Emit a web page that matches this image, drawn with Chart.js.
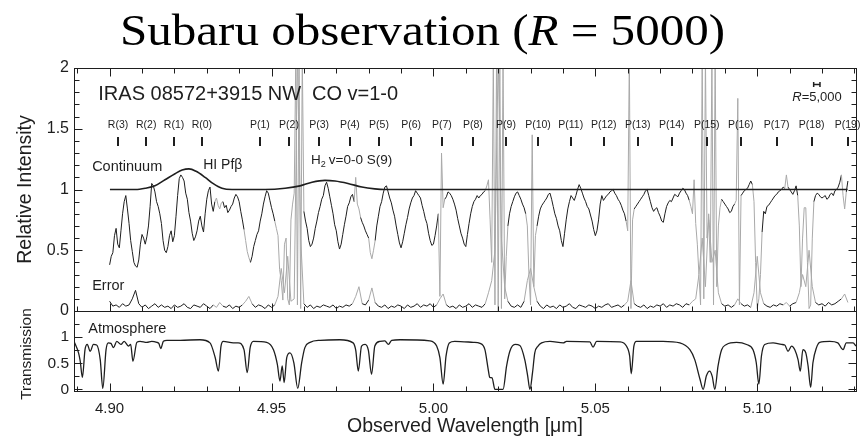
<!DOCTYPE html>
<html>
<head>
<meta charset="utf-8">
<script src="https://cdn.jsdelivr.net/npm/chart.js@4.4.1/dist/chart.umd.min.js"></script>
<style>
  html, body { margin: 0; padding: 0; background: #fff; }
  #wrap { position: relative; width: 861px; height: 436px; }
  #wrap canvas { position: absolute; left: 0; top: 0; }
</style>
</head>
<body>
<div id="wrap">
  <canvas id="upper" width="861" height="436"></canvas>
  <canvas id="lower" width="861" height="436"></canvas>
</div>
<script>
// wavelength range of both panels (micron)
const X_MIN = 4.889, X_MAX = 5.1305;

// observed spectrum, sampled every 0.0005 micron from 4.900
const specStart = 4.900, specStep = 0.0005;
const spectrum = [
  0.38, 0.45, 0.48, 0.62, 0.68, 0.55, 0.52, 0.66, 0.80, 0.90, 0.95, 0.84, 0.72, 0.58, 0.49, 0.40, 0.37, 0.36, 0.42, 0.55,
  0.63, 0.60, 0.55, 0.61, 0.70, 0.86, 1.05, 1.03, 0.98, 0.90, 0.86, 0.80, 0.72, 0.58, 0.50, 0.48, 0.53, 0.62, 0.66, 0.57,
  0.62, 0.78, 0.95, 1.09, 1.12, 1.10, 1.07, 0.97, 0.92, 0.81, 0.74, 0.64, 0.58, 0.61, 0.66, 0.74, 0.78, 0.70, 0.65, 0.80,
  0.92, 0.99, 1.02, 0.88, 0.82, 0.90, 0.93, 0.87, 0.84, 0.89, 0.90, 0.85, 0.87, 0.81, 0.83, 0.86, 0.88, 0.93, 0.96, 0.94,
  0.90, 0.82, 0.75, 0.67, 0.58, 0.49, 0.44, 0.40, 0.45, 0.53, 0.58, 0.63, 0.66, 0.74, 0.80, 0.88, 0.94, 0.99, 0.97, 0.91,
  0.85, 0.80, 0.74, 0.68, 0.62, 0.34, 0.25, 0.09, 0.55, 0.60, 0.10, 0.05, 0.75, 0.88, 0.97, 2.10, 0.05, 2.10, 0.02, 2.10,
  0.82, 0.74, 0.68, 0.58, 0.53, 0.55, 0.60, 0.68, 0.74, 0.81, 0.86, 0.92, 0.95, 1.03, 1.06, 1.01, 0.94, 0.87, 0.80, 0.71,
  0.66, 0.57, 0.51, 0.55, 0.63, 0.71, 0.78, 0.86, 0.89, 0.94, 0.96, 0.90, 1.10, 0.88, 0.84, 0.77, 0.73, 0.70, 0.66, 0.63,
  0.60, 0.48, 0.43, 0.50, 0.58, 0.70, 0.78, 0.86, 0.90, 0.97, 1.02, 1.03, 0.98, 0.93, 0.89, 0.83, 0.78, 0.70, 0.63, 0.56,
  0.52, 0.57, 0.64, 0.71, 0.77, 0.84, 0.89, 0.93, 0.95, 0.99, 0.97, 0.95, 0.93, 0.87, 0.82, 0.76, 0.72, 0.64, 0.58, 0.54,
  0.55, 0.62, 0.70, 0.80, 0.12, 1.30, 0.85, 0.92, 0.94, 0.98, 0.97, 0.95, 0.92, 0.88, 0.83, 0.76, 0.70, 0.64, 0.60, 0.55,
  0.53, 0.63, 0.72, 0.80, 0.86, 0.90, 0.92, 0.95, 0.93, 0.95, 0.96, 0.98, 0.99, 1.03, 1.08, 0.75, 0.40, 2.10, 0.05, 2.10,
  0.00, 2.10, 0.02, 2.10, 0.10, 0.45, 0.70, 0.80, 0.86, 0.90, 0.94, 0.97, 0.98, 0.95, 0.92, 0.88, 0.85, 0.80, 0.70, 0.30,
  0.05, 1.45, 0.20, 0.62, 0.70, 0.78, 0.84, 0.87, 0.89, 0.91, 0.93, 0.96, 0.97, 0.92, 0.86, 0.80, 0.76, 0.70, 0.66, 0.58,
  0.53, 0.64, 0.75, 0.84, 0.90, 0.95, 0.93, 0.91, 0.95, 1.00, 1.04, 1.01, 0.97, 0.93, 0.90, 0.86, 0.84, 0.79, 0.74, 0.67,
  0.62, 0.66, 0.75, 0.88, 0.95, 0.91, 0.93, 0.95, 0.96, 0.98, 0.99, 1.00, 0.97, 0.95, 0.92, 0.90, 0.87, 0.83, 0.80, 0.74,
  0.66, 2.10, 0.02, 0.75, 0.84, 0.86, 0.88, 0.90, 0.92, 0.94, 0.96, 0.99, 1.00, 0.95, 0.90, 0.85, 0.82, 0.84, 0.85, 0.81,
  0.78, 0.74, 0.73, 0.80, 0.86, 0.89, 0.91, 0.90, 0.93, 0.96, 0.95, 0.94, 0.97, 0.99, 1.01, 1.00, 0.97, 0.95, 0.91, 0.86,
  0.80, 1.08, 0.72, 0.55, 0.30, 0.05, 2.10, 0.10, 2.10, 0.60, 0.75, 0.40, 2.10, 0.05, 2.10, 0.20, 0.70, 0.85, 0.92, 0.90,
  0.88, 0.86, 0.84, 0.81, 0.82, 0.86, 0.88, 0.91, 1.75, 0.05, 0.95, 0.97, 0.99, 1.00, 1.01, 1.04, 1.07, 1.04, 0.90, 0.40,
  0.02, 0.10, 0.30, 0.65, 0.82, 0.80, 0.86, 0.87, 0.89, 0.91, 0.93, 0.95, 0.96, 0.98, 0.99, 1.00, 1.02, 1.01, 1.12, 1.02,
  1.00, 0.98, 0.96, 0.99, 1.03, 0.95, 0.70, 0.20, 0.60, 0.85, 0.85, 0.40, 0.02, 0.05, 0.60, 0.90, 0.95, 0.97, 0.96, 0.94,
  0.93, 0.94, 0.95, 0.92, 0.93, 0.96, 0.97, 0.95, 0.99, 1.00, 1.02, 1.06, 1.12, 0.95, 0.84, 0.98, 1.07
];

// 1-sigma error spectrum, sampled every 0.001 micron from 4.900
const errStart = 4.900, errStep = 0.001;
const errorSpec = [
  0.08, 0.04, 0.05, 0.03, 0.06, 0.04, 0.05, 0.10, 0.17, 0.06,
  0.03, 0.05, 0.02, 0.04, 0.06, 0.03, 0.05, 0.03, 0.04, 0.02,
  0.05, 0.03, 0.04, 0.06, 0.03, 0.02, 0.05, 0.04, 0.03, 0.06,
  0.04, 0.02, 0.05, 0.03, 0.07, 0.04, 0.03, 0.05, 0.02, 0.04,
  0.03, 0.05, 0.08, 0.12, 0.06, 0.03, 0.05, 0.04, 0.02, 0.05,
  0.03, 0.05, 0.12, 0.35, 0.15, 0.45, 0.08, 0.10, 2.10, 0.60,
  0.06, 0.03, 0.05, 0.02, 0.04, 0.03, 0.05, 0.04, 0.03, 0.05,
  0.02, 0.04, 0.03, 0.05, 0.04, 0.06, 0.12, 0.20, 0.06, 0.05,
  0.09, 0.19, 0.07, 0.04, 0.03, 0.05, 0.02, 0.04, 0.03, 0.05,
  0.04, 0.02, 0.05, 0.03, 0.04, 0.06, 0.03, 0.05, 0.04, 0.06,
  0.03, 0.05, 0.10, 0.14, 0.05, 0.03, 0.04, 0.02, 0.05, 0.03,
  0.04, 0.06, 0.03, 0.05, 0.04, 0.03, 0.06, 0.15, 0.25, 0.50,
  2.10, 0.60, 0.20, 0.08, 0.04, 0.03, 0.05, 0.03, 0.08, 0.25,
  0.35, 0.20, 0.08, 0.04, 0.02, 0.05, 0.03, 0.04, 0.02, 0.05,
  0.03, 0.04, 0.06, 0.03, 0.02, 0.05, 0.04, 0.03, 0.05, 0.04,
  0.02, 0.04, 0.03, 0.05, 0.06, 0.03, 0.04, 0.05, 0.03, 0.05,
  0.08, 0.25, 0.06, 0.04, 0.03, 0.05, 0.02, 0.04, 0.03, 0.05,
  0.04, 0.06, 0.03, 0.05, 0.04, 0.06, 0.05, 0.03, 0.06, 0.05,
  0.08, 0.10, 0.30, 0.60, 0.20, 0.80, 0.40, 0.50, 0.15, 0.06,
  0.04, 0.05, 0.03, 0.05, 0.10, 0.06, 0.04, 0.05, 0.03, 0.15,
  0.45, 0.15, 0.06, 0.04, 0.03, 0.05, 0.04, 0.06, 0.05, 0.07,
  0.04, 0.06, 0.07, 0.15, 0.30, 0.20, 0.50, 0.20, 0.07, 0.05,
  0.06, 0.04, 0.07, 0.05, 0.06, 0.08, 0.10, 0.14, 0.07
];

// wavelength ranges hit by strong telluric absorption (drawn grey)
const badRanges = [
  [4.9328, 4.9345], [4.9418, 4.9432], [4.9515, 4.9598], [4.9758, 4.9772],
  [4.9805, 4.9815], [5.0018, 5.0032], [5.0165, 5.0225], [5.0288, 5.0315],
  [5.0598, 5.0617], [5.0795, 5.0885], [5.0935, 5.0948], [5.0988, 5.1012],
  [5.1088, 5.1092], [5.1128, 5.1172], [5.1262, 5.1272]
];

// continuum with HI Pf-beta and H2 S(9) emission
const contWave = [4.9001, 4.9080, 4.9110, 4.9140, 4.9171, 4.9202, 4.9224, 4.9245,
  4.9267, 4.9295, 4.9319, 4.9347, 4.9378, 4.9480, 4.9542, 4.9588, 4.9625, 4.9665,
  4.9696, 4.9736, 4.9779, 4.9819, 4.9850, 5.1279];
const contLevel = [1.00, 1.00, 1.01, 1.03, 1.08, 1.13, 1.16, 1.17,
  1.15, 1.10, 1.05, 1.01, 1.00, 1.00, 1.01, 1.03, 1.06, 1.075,
  1.07, 1.05, 1.02, 1.005, 1.00, 1.00];

// atmospheric transmission
const atmWave = [4.8890, 4.8904, 4.8909, 4.8916, 4.8924, 4.8931, 4.8940, 4.8950, 4.8960, 4.8971,
  4.8979, 4.8989, 4.8996, 4.9004, 4.9012, 4.9022, 4.9035, 4.9045, 4.9058, 4.9065,
  4.9072, 4.9084, 4.9094, 4.9115, 4.9130, 4.9146, 4.9152, 4.9158, 4.9166, 4.9177,
  4.9218, 4.9279, 4.9310, 4.9326, 4.9336, 4.9344, 4.9351, 4.9382, 4.9397, 4.9415,
  4.9425, 4.9434, 4.9444, 4.9485, 4.9506, 4.9518, 4.9526, 4.9533, 4.9539, 4.9547,
  4.9557, 4.9569, 4.9581, 4.9593, 4.9603, 4.9619, 4.9650, 4.9711, 4.9752, 4.9760,
  4.9768, 4.9778, 4.9789, 4.9799, 4.9809, 4.9819, 4.9835, 4.9850, 4.9861, 4.9871,
  4.9897, 4.9989, 5.0010, 5.0020, 5.0030, 5.0039, 5.0049, 5.0066, 5.0123, 5.0144,
  5.0159, 5.0169, 5.0174, 5.0181, 5.0190, 5.0215, 5.0226, 5.0236, 5.0252, 5.0267,
  5.0282, 5.0291, 5.0298, 5.0306, 5.0313, 5.0323, 5.0334, 5.0360, 5.0401, 5.0411,
  5.0483, 5.0493, 5.0504, 5.0576, 5.0596, 5.0606, 5.0611, 5.0619, 5.0627, 5.0709,
  5.0761, 5.0792, 5.0807, 5.0823, 5.0833, 5.0843, 5.0853, 5.0861, 5.0869, 5.0879,
  5.0890, 5.0905, 5.0936, 5.0967, 5.0987, 5.0997, 5.1005, 5.1013, 5.1023, 5.1049,
  5.1075, 5.1085, 5.1095, 5.1106, 5.1116, 5.1126, 5.1133, 5.1141, 5.1150, 5.1157,
  5.1165, 5.1172, 5.1183, 5.1193, 5.1224, 5.1249, 5.1265, 5.1275, 5.1296, 5.1305];
const atmTrans = [0.92, 0.70, 0.55, 0.23, 0.76, 0.86, 0.73, 0.86, 0.85, 0.57,
  0.02, 0.76, 0.89, 0.88, 0.80, 0.92, 0.86, 0.92, 0.83, 0.86,
  0.54, 0.90, 0.92, 0.90, 0.92, 0.90, 0.88, 0.78, 0.92, 0.94,
  0.94, 0.95, 0.89, 0.61, 0.35, 0.83, 0.92, 0.89, 0.89, 0.76,
  0.32, 0.80, 0.92, 0.90, 0.76, 0.48, 0.16, 0.45, 0.13, 0.61,
  0.70, 0.51, 0.02, 0.51, 0.80, 0.90, 0.94, 0.95, 0.89, 0.75,
  0.35, 0.83, 0.86, 0.75, 0.29, 0.83, 0.92, 0.93, 0.86, 0.94,
  0.95, 0.93, 0.83, 0.61, 0.10, 0.64, 0.89, 0.92, 0.90, 0.88,
  0.76, 0.39, 0.23, 0.22, 0.00, 0.00, 0.45, 0.73, 0.86, 0.84,
  0.57, 0.26, 0.00, 0.32, 0.70, 0.83, 0.89, 0.92, 0.89, 0.92,
  0.91, 0.81, 0.92, 0.91, 0.83, 0.64, 0.30, 0.83, 0.92, 0.92,
  0.89, 0.76, 0.57, 0.20, 0.00, 0.26, 0.35, 0.25, 0.00, 0.45,
  0.76, 0.86, 0.90, 0.86, 0.76, 0.51, 0.10, 0.64, 0.86, 0.89,
  0.86, 0.85, 0.73, 0.83, 0.76, 0.57, 0.35, 0.76, 0.70, 0.45,
  0.04, 0.51, 0.80, 0.90, 0.92, 0.89, 0.76, 0.89, 0.89, 0.83];

// CO v=1-0 line positions
const lineName = ['R(3)', 'R(2)', 'R(1)', 'R(0)', 'P(1)', 'P(2)', 'P(3)', 'P(4)', 'P(5)', 'P(6)',
  'P(7)', 'P(8)', 'P(9)', 'P(10)', 'P(11)', 'P(12)', 'P(13)', 'P(14)', 'P(15)', 'P(16)',
  'P(17)', 'P(18)', 'P(19)'];
const lineWave = [4.9026, 4.9113, 4.9199, 4.9285, 4.9464, 4.9554, 4.9647, 4.9742, 4.9832, 4.9931,
  5.0026, 5.0122, 5.0224, 5.0323, 5.0424, 5.0526, 5.0631, 5.0736, 5.0844, 5.0949,
  5.1060, 5.1168, 5.1279];

const xTickValues = [4.90, 4.95, 5.00, 5.05, 5.10];
const yTicksUpper = [0, 0.5, 1, 1.5, 2];
const yTicksLower = [0, 0.5, 1];
const RESOLVING_POWER = 5000;

const SANS = '"Liberation Sans", Arial, Helvetica, sans-serif';
const SERIF = '"Liberation Serif", "Times New Roman", serif';
const INK = '#1e1e1e';
const GREY = '#a9a9a9';

const isBad = w => badRanges.some(r => w >= r[0] && w <= r[1]);
const segColor = c => (isBad(c.p0.parsed.x) || isBad(c.p1.parsed.x)) ? GREY : INK;
const sampled = (arr, start, step) => arr.map((v, i) => ({ x: +(start + i * step).toFixed(4), y: v }));
const paired = (xs, ys) => xs.map((w, i) => ({ x: w, y: ys[i] }));

// frame plus inward tick marks
function drawFrame(chart, xStep, yStep, yMajor, xSides) {
  const { ctx, chartArea: a, scales: { x, y } } = chart;
  const L = Math.round(a.left) + 0.5, R = Math.round(a.right) + 0.5;
  const T = Math.round(a.top) + 0.5, B = Math.round(a.bottom) + 0.5;
  ctx.save();
  ctx.strokeStyle = INK;
  ctx.lineWidth = 1;
  ctx.strokeRect(L, T, R - L, B - T);
  ctx.beginPath();
  for (let k = Math.ceil(x.min / xStep); k * xStep <= x.max; k++) {
    const px = Math.round(x.getPixelForValue(k * xStep)) + 0.5;
    const len = (k % 5 === 0) ? 8 : 5;
    if (xSides.includes('top')) { ctx.moveTo(px, T); ctx.lineTo(px, T + len); }
    if (xSides.includes('bottom')) { ctx.moveTo(px, B); ctx.lineTo(px, B - len); }
  }
  for (let k = Math.ceil(y.min / yStep); k * yStep <= y.max + 1e-9; k++) {
    const v = k * yStep;
    const py = Math.round(y.getPixelForValue(v)) + 0.5;
    const len = (Math.abs(v / yMajor - Math.round(v / yMajor)) < 1e-6) ? 8 : 5;
    ctx.moveTo(L, py); ctx.lineTo(L + len, py);
    ctx.moveTo(R, py); ctx.lineTo(R - len, py);
  }
  ctx.stroke();
  ctx.restore();
}

function drawTitle(ctx) {
  const size = 44;
  const up = size + 'px ' + SERIF, it = 'italic ' + size + 'px ' + SERIF;
  const parts = [['Subaru observation (', up], ['R', it], [' = 5000)', up]];
  ctx.save();
  let total = 0;
  const widths = parts.map(p => { ctx.font = p[1]; const w = ctx.measureText(p[0]).width; total += w; return w; });
  const target = 605;
  ctx.translate(120, 45);
  ctx.scale(target / total, 1);
  ctx.fillStyle = '#000';
  ctx.textBaseline = 'alphabetic';
  let cx = 0;
  parts.forEach((p, i) => { ctx.font = p[1]; ctx.fillText(p[0], cx, 0); cx += widths[i]; });
  ctx.restore();
}

const upperDecor = {
  id: 'upperDecor',
  afterDatasetsDraw(chart) {
    const { ctx, scales: { x, y } } = chart;
    drawFrame(chart, 0.01, 0.1, 0.5, ['top', 'bottom']);
    drawTitle(ctx);
    ctx.save();
    ctx.fillStyle = INK;
    ctx.textBaseline = 'middle';
    ctx.textAlign = 'left';
    ctx.font = '20px ' + SANS;
    ctx.fillText('IRAS 08572+3915 NW', x.getPixelForValue(4.8965), y.getPixelForValue(1.778));
    ctx.fillText('CO v=1-0', x.getPixelForValue(4.9625), y.getPixelForValue(1.778));

    // line identifications
    ctx.font = '10.5px ' + SANS;
    ctx.textAlign = 'center';
    ctx.strokeStyle = INK;
    ctx.lineWidth = 2;
    ctx.beginPath();
    lineWave.forEach((w, i) => {
      const px = x.getPixelForValue(w);
      ctx.fillText(lineName[i], px, y.getPixelForValue(1.531));
      const sx = Math.round(px);
      ctx.moveTo(sx, y.getPixelForValue(1.432));
      ctx.lineTo(sx, y.getPixelForValue(1.358));
    });
    ctx.stroke();

    // labels
    ctx.textAlign = 'left';
    ctx.font = '14.5px ' + SANS;
    ctx.fillText('Continuum', x.getPixelForValue(4.8946), y.getPixelForValue(1.185));
    ctx.fillText('Error', x.getPixelForValue(4.8946), y.getPixelForValue(0.206));
    ctx.font = '14px ' + SANS;
    ctx.fillText('HI Pf\u03b2', x.getPixelForValue(4.9289), y.getPixelForValue(1.202));
    let hx = x.getPixelForValue(4.9622);
    const hy = y.getPixelForValue(1.243);
    ctx.font = '13.5px ' + SANS;
    ctx.fillText('H', hx, hy);
    hx += ctx.measureText('H').width;
    ctx.font = '9px ' + SANS;
    ctx.fillText('2', hx, hy + 5);
    hx += ctx.measureText('2').width + 3;
    ctx.font = '13.5px ' + SANS;
    ctx.fillText('v=0-0 S(9)', hx, hy);

    // resolution element
    ctx.font = '13px ' + SANS;
    ctx.textAlign = 'right';
    const rx = x.getPixelForValue(5.1261), ry = y.getPixelForValue(1.761);
    ctx.fillText('=5,000', rx, ry);
    const wNum = ctx.measureText('=5,000').width;
    ctx.font = 'italic 13px ' + SANS;
    ctx.fillText('R', rx - wNum, ry);
    const wc = 5.1184, half = wc / RESOLVING_POWER / 2;
    const bx0 = x.getPixelForValue(wc - half) - 1.5, bx1 = x.getPixelForValue(wc + half) + 1.5;
    const by = Math.round(y.getPixelForValue(1.868)) + 0.5;
    ctx.lineWidth = 1.5;
    ctx.beginPath();
    ctx.moveTo(bx0, by); ctx.lineTo(bx1, by);
    ctx.moveTo(bx0, by - 2.5); ctx.lineTo(bx0, by + 2.5);
    ctx.moveTo(bx1, by - 2.5); ctx.lineTo(bx1, by + 2.5);
    ctx.stroke();

    // y title
    ctx.translate(26, (chart.chartArea.top + chart.chartArea.bottom) / 2);
    ctx.rotate(-Math.PI / 2);
    ctx.textAlign = 'center';
    ctx.font = '19.5px ' + SANS;
    ctx.fillText('Relative Intensity', 0, 0);
    ctx.restore();
  }
};

const lowerDecor = {
  id: 'lowerDecor',
  afterDatasetsDraw(chart) {
    const { ctx, chartArea: a, scales: { x, y } } = chart;
    drawFrame(chart, 0.01, 0.25, 0.5, ['bottom']);
    ctx.save();
    ctx.fillStyle = INK;
    ctx.textBaseline = 'middle';
    ctx.textAlign = 'left';
    ctx.font = '14.5px ' + SANS;
    ctx.fillText('Atmosphere', x.getPixelForValue(4.8934), y.getPixelForValue(1.16));
    ctx.textAlign = 'center';
    ctx.font = '19.5px ' + SANS;
    ctx.fillText('Observed Wavelength [\u03bcm]', (a.left + a.right) / 2, 427);
    ctx.translate(27, (a.top + a.bottom) / 2 + 3);
    ctx.rotate(-Math.PI / 2);
    ctx.font = '15.5px ' + SANS;
    ctx.fillText('Transmission', 0, 0);
    ctx.restore();
  }
};

const commonOpts = {
  responsive: false,
  animation: false,
  events: [],
  plugins: { legend: { display: false }, tooltip: { enabled: false } }
};

new Chart(document.getElementById('upper'), {
  type: 'line',
  data: {
    datasets: [
      { data: paired(contWave, contLevel), borderColor: INK, borderWidth: 1.6, pointRadius: 0,
        cubicInterpolationMode: 'monotone', order: 0 },
      { data: sampled(spectrum, specStart, specStep), borderColor: INK, borderWidth: 1, pointRadius: 0,
        segment: { borderColor: segColor }, order: 1 },
      { data: sampled(errorSpec, errStart, errStep), borderColor: INK, borderWidth: 1, pointRadius: 0,
        segment: { borderColor: segColor }, order: 2 }
    ]
  },
  options: {
    ...commonOpts,
    layout: { padding: { top: 68, right: 5, bottom: 125, left: 0 } },
    scales: {
      x: { type: 'linear', min: X_MIN, max: X_MAX, display: false },
      y: {
        min: 0, max: 2,
        afterFit: s => { s.width = 74; },
        afterBuildTicks: s => { s.ticks = yTicksUpper.map(v => ({ value: v })); },
        grid: { display: false, drawTicks: false },
        border: { display: false },
        ticks: { padding: 5, color: INK, font: { family: SANS, size: 16 }, callback: v => String(v) }
      }
    }
  },
  plugins: [upperDecor]
});

new Chart(document.getElementById('lower'), {
  type: 'line',
  data: {
    datasets: [
      { data: paired(atmWave, atmTrans), borderColor: INK, borderWidth: 1.3, pointRadius: 0,
        cubicInterpolationMode: 'monotone' }
    ]
  },
  options: {
    ...commonOpts,
    layout: { padding: { top: 311, right: 5, bottom: 0, left: 0 } },
    scales: {
      x: {
        type: 'linear', min: X_MIN, max: X_MAX,
        afterFit: s => { s.height = 45; },
        afterBuildTicks: s => { s.ticks = xTickValues.map(v => ({ value: v })); },
        grid: { display: false, drawTicks: false },
        border: { display: false },
        ticks: { padding: 9, color: INK, font: { family: SANS, size: 15 }, maxRotation: 0, autoSkip: false,
          callback: v => v.toFixed(2) }
      },
      y: {
        min: -0.03, max: 1.5,
        afterFit: s => { s.width = 74; },
        afterBuildTicks: s => { s.ticks = yTicksLower.map(v => ({ value: v })); },
        grid: { display: false, drawTicks: false },
        border: { display: false },
        ticks: { padding: 5, color: INK, font: { family: SANS, size: 15.5 }, callback: v => String(v) }
      }
    }
  },
  plugins: [lowerDecor]
});
</script>
</body>
</html>
